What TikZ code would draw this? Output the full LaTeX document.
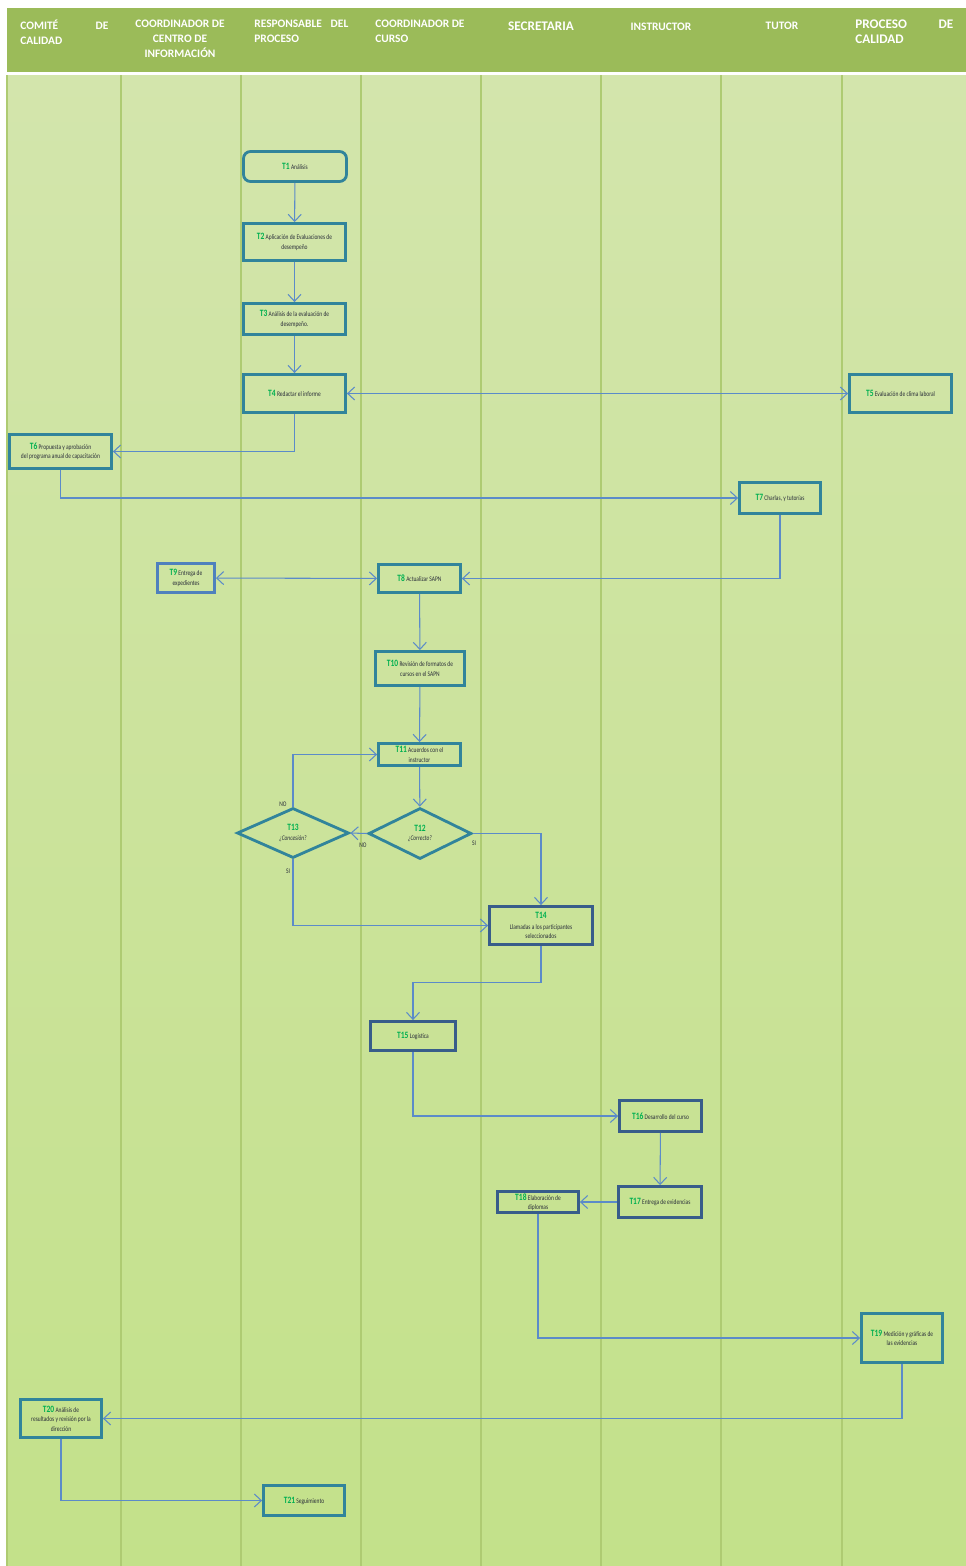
\documentclass[tikz,border=0pt]{standalone}
\usepackage{fontspec}
\setmainfont{Carlito}
\newfontfamily\taskfont[FakeStretch=0.78]{Carlito}
\usepackage{xcolor}
\usetikzlibrary{arrows.meta, shapes.geometric}
\definecolor{hdrgreen}{HTML}{9BBB59}
\definecolor{bodytop}{HTML}{D3E5AC}
\definecolor{bodybot}{HTML}{C3E18A}
\definecolor{laneline}{HTML}{AECB72}
\definecolor{tealedge}{HTML}{31849B}
\definecolor{navyedge}{HTML}{385D8A}
\definecolor{blueedge}{HTML}{4F81BD}
\definecolor{linkblue}{HTML}{5B8BC9}
\definecolor{tnumgreen}{HTML}{00B050}
\definecolor{txtdark}{HTML}{2A2E3A}
\newcommand{\tnum}[1]{{\fontsize{5.5}{5.5}\selectfont\bfseries\color{tnumgreen}#1}}
\tikzset{
    wh/.style 2 args={minimum width=#1*0.02cm, minimum height=#2*0.02cm},
    task/.style={rectangle, draw=tealedge, line width=1.6pt, align=center, inner sep=1pt,
        font=\taskfont\fontsize{4}{5.4}\selectfont, text=txtdark},
    taskround/.style={task, rounded corners=4pt},
    navytask/.style={task, draw=navyedge},
    bluetask/.style={task, draw=blueedge},
    decision/.style={diamond, draw=tealedge, line width=1.6pt, align=center, inner sep=0pt,
        font=\taskfont\fontsize{4}{5.4}\selectfont, text=txtdark},
    arrow/.style={draw=linkblue, line width=0.6pt, -{Straight Barb[length=1.4mm, width=2.6mm]}},
    dblarrow/.style={arrow, {Straight Barb[length=1.4mm, width=2.6mm]}-{Straight Barb[length=1.4mm, width=2.6mm]}},
    lanehead/.style={text=white, inner sep=0pt, font=\fontsize{6.5}{8.5}\selectfont\bfseries},
    answer/.style={text=txtdark, inner sep=0pt, font=\taskfont\fontsize{4}{4}\selectfont},
}

\begin{document}
\begin{tikzpicture}[x=0.02cm, y=-0.02cm]
    \useasboundingbox (0,0) rectangle (966,1566);
    % background and swim lanes
    \fill[white] (0,0) rectangle (966,1566);
    \fill[hdrgreen] (7,8) rectangle (966,72);
    \shade[top color=bodytop, bottom color=bodybot] (7,75) rectangle (966,1566);
    \foreach \lx in {7,121,241,361,481,601,721,842}
        \draw[laneline, line width=0.8pt] (\lx,75) -- (\lx,1566);

    % lane headers
    \node[lanehead, anchor=north west, text width=1.76cm, align=left] (h1) at (20,20) {COMITÉ\hfill DE\\CALIDAD};
    \node[lanehead, anchor=north, align=center] (h2) at (180,20) {COORDINADOR DE\\CENTRO DE\\INFORMACIÓN};
    \node[lanehead, anchor=north west, text width=1.88cm, align=left] (h3) at (254,20) {RESPONSABLE\hfill DEL\\PROCESO};
    \node[lanehead, anchor=north west, align=left] (h4) at (375,20) {COORDINADOR DE\\CURSO};
    \node[lanehead, font=\fontsize{7.5}{8.5}\selectfont\bfseries] (h5) at (541,26) {SECRETARIA};
    \node[lanehead] (h6) at (661,27) {INSTRUCTOR};
    \node[lanehead] (h7) at (782,26) {TUTOR};
    \node[lanehead, anchor=north west, text width=1.96cm, align=left, font=\fontsize{7.5}{8.5}\selectfont\bfseries] (h8) at (855,20) {PROCESO\hfill DE\\CALIDAD};

    % tasks
    \node[taskround, wh={103}{30}] (t1) at (295,166.5) {\tnum{T1} Análisis};
    \node[task, wh={102}{37}] (t2) at (294.5,242) {\tnum{T2} Aplicación de Evaluaciones de\\desempeño};
    \node[task, wh={102}{31}] (t3) at (294.5,319) {\tnum{T3} Análisis de la evaluación de\\desempeño.};
    \node[task, wh={102}{38}] (t4) at (294.5,393.5) {\tnum{T4} Redactar el informe};
    \node[task, wh={102}{38}] (t5) at (900.5,393.5) {\tnum{T5} Evaluación de clima laboral};
    \node[task, wh={102}{34}] (t6) at (60.5,451.5) {\tnum{T6} Propuesta y aprobación\\del programa anual de capacitación};
    \node[task, wh={81}{31}] (t7) at (780,498) {\tnum{T7} Charlas, y tutorías};
    \node[bluetask, wh={57}{29}] (t9) at (186,578) {\tnum{T9} Entrega de\\expedientes};
    \node[task, wh={82}{28}] (t8) at (419.5,578.5) {\tnum{T8} Actualizar SAPN};
    \node[task, wh={89}{34}] (t10) at (420,668.5) {\tnum{T10} Revisión de formatos de\\cursos en el SAPN};
    \node[task, wh={82}{22}] (t11) at (419.5,754.5) {\tnum{T11} Acuerdos con el\\instructor};
    \node[decision, wh={103}{51}] (t12) at (420,833.5) {\tnum{T12}\\\textit{¿Correcto?}};
    \node[decision, wh={112}{50}] (t13) at (293,833) {\tnum{T13}\\\textit{¿Concesión?}};
    \node[navytask, wh={103}{38}] (t14) at (541,925.5) {\tnum{T14}\\[1pt]Llamadas a los participantes\\seleccionados};
    \node[navytask, wh={85}{29}] (t15) at (413,1036) {\tnum{T15} Logística};
    \node[navytask, wh={82}{31}] (t16) at (660.5,1116) {\tnum{T16} Desarrollo del curso};
    \node[navytask, wh={83}{31}] (t17) at (660,1202) {\tnum{T17} Entrega de evidencias};
    \node[navytask, wh={81}{21}] (t18) at (538,1202) {\tnum{T18} Elaboración de\\diplomas};
    \node[task, wh={81}{49}] (t19) at (902,1338) {\tnum{T19} Medición y gráficas de\\las evidencias};
    \node[task, wh={81}{38}] (t20) at (61,1418.5) {\tnum{T20} Análisis de\\resultados y revisión por la\\dirección};
    \node[task, wh={81}{30}] (t21) at (304,1500.5) {\tnum{T21} Seguimiento};

    % answers
    \node[answer] (no1) at (283,804) {NO};
    \node[answer] (no2) at (363,845) {NO};
    \node[answer] (si1) at (474,843) {SI};
    \node[answer] (si2) at (288,871) {SI};

    % flows
    \draw[arrow] (t1) -- (t2);
    \draw[arrow] (t2) -- (t3);
    \draw[arrow] (t3) -- (t4);
    \draw[dblarrow] (t4) -- (t5);
    \draw[arrow] (t4.south) |- (t6.east);
    \draw[arrow] (t6.south) |- (t7.west);
    \draw[arrow] (t7.south) |- (t8.east);
    \draw[dblarrow] (t9) -- (t8);
    \draw[arrow] (t8) -- (t10);
    \draw[arrow] (t10) -- (t11);
    \draw[arrow] (t11) -- (t12);
    \draw[arrow] (t12.west) -- (t13.east);
    \draw[arrow] (t13.north) |- (t11.west);
    \draw[arrow] (t12.east) -| (t14.north);
    \draw[arrow] (t13.south) |- (t14.west);
    \draw[arrow] (t14.south) -- ++(0,37) -| (t15.north);
    \draw[arrow] (t15.south) |- (t16.west);
    \draw[arrow] (t16) -- (t17);
    \draw[arrow] (t17) -- (t18);
    \draw[arrow] (t18.south) |- (t19.west);
    \draw[arrow] (t19.south) |- (t20.east);
    \draw[arrow] (t20.south) |- (t21.west);
\end{tikzpicture}
\end{document}
